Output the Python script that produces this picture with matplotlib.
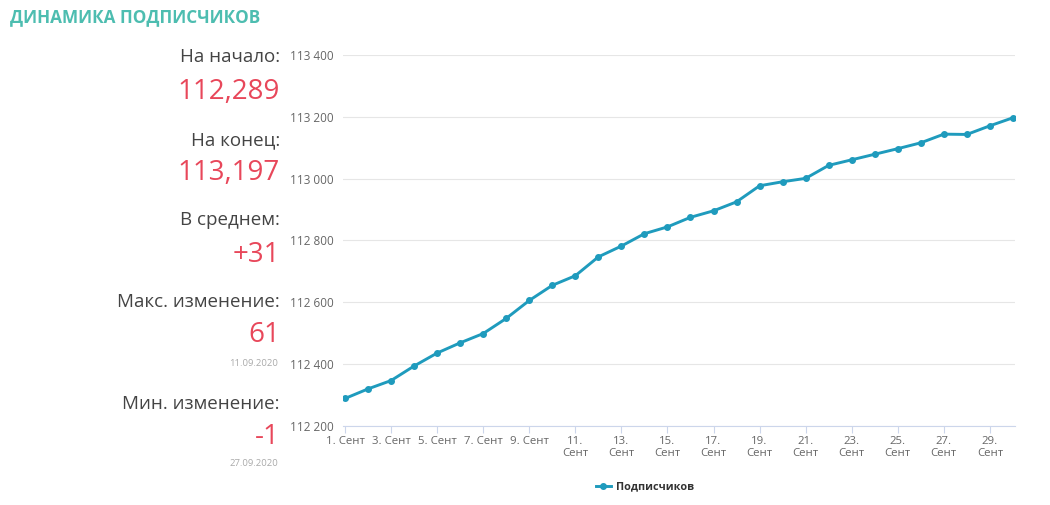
import matplotlib
matplotlib.use("Agg")
import matplotlib.pyplot as plt
from matplotlib.ticker import FuncFormatter

plt.rcParams['font.family'] = ['Open Sans', 'DejaVu Sans']

# подписчики по дням сентября 2020
days = list(range(1, 31))
subs = [112289, 112320, 112347, 112394, 112436, 112469, 112499, 112548, 112606, 112655,
        112686, 112747, 112782, 112822, 112844, 112875, 112896, 112925, 112977, 112990,
        113001, 113043, 113061, 113079, 113097, 113116, 113144, 113143, 113171, 113197]

tick_days = list(range(1, 30, 2))
tick_labels = [str(d) + ". Сент" if d < 10 else str(d) + ".\nСент" for d in tick_days]
y_ticks = [112200, 112400, 112600, 112800, 113000, 113200, 113400]

stats = [("На начало:", "112,289", None),
         ("На конец:", "113,197", None),
         ("В среднем:", "+31", None),
         ("Макс. изменение:", "61", "11.09.2020"),
         ("Мин. изменение:", "-1", "27.09.2020")]

W, H = 1050, 505
fig = plt.figure(figsize=(10.5, 5.05), dpi=100)
fig.patch.set_facecolor("white")

ax = fig.add_axes([343 / W, 1 - 426 / H, (1015 - 343) / W, (426 - 55) / H])
line_color = "#1f9bbd"
ax.plot(days, subs, color=line_color, lw=2.1, marker="o", ms=4, label="Подписчиков")
ax.set_xlim(0.913, 30.09)
ax.set_ylim(112200, 113400)
ax.set_yticks(y_ticks)
ax.yaxis.set_major_formatter(FuncFormatter(lambda v, p: "{:,}".format(int(v)).replace(",", " ")))
ax.set_xticks(tick_days)
ax.set_xticklabels(tick_labels, fontsize=8.2, color="#666666", linespacing=1.15, va="top")
ax.tick_params(axis="y", length=0, pad=7, labelsize=8.5, labelcolor="#666666")
ax.tick_params(axis="x", length=5, width=0.8, color="#ccd6eb", pad=2)
ax.grid(axis="y", color="#e6e6e6", lw=0.8)
ax.set_axisbelow(True)
for s in ["top", "right", "left"]:
    ax.spines[s].set_visible(False)
ax.spines["bottom"].set_color("#ccd6eb")
ax.spines["bottom"].set_linewidth(0.8)

leg = fig.legend(loc="center", bbox_to_anchor=(645 / W, 1 - 487 / H), frameon=False,
                 fontsize=7.8, handlelength=1.4, handletextpad=0.5)
for t in leg.get_texts():
    t.set_color("#333333")
    t.set_fontweight("bold")

fig.text(10 / W, 1 - 17 / H, "ДИНАМИКА ПОДПИСЧИКОВ", fontsize=12.3, fontweight="bold",
         color="#4dbdb0", ha="left", va="center")

label_y = [57, 140, 220, 302, 404]
value_y = [92, 173, 255, 335, 437]
date_y = [None, None, None, 364, 464]
xr = 280 / W
for i, (lab, val, dt) in enumerate(stats):
    fig.text(xr, 1 - label_y[i] / H, lab, fontsize=13.5, color="#444444", ha="right", va="center")
    fig.text(xr, 1 - value_y[i] / H, val, fontsize=20, color="#e8475a", ha="right", va="center")
    if dt:
        fig.text(xr - 2 / W, 1 - date_y[i] / H, dt, fontsize=6.8, color="#aaaaaa", ha="right", va="center")

fig.savefig("out.png", dpi=100)
